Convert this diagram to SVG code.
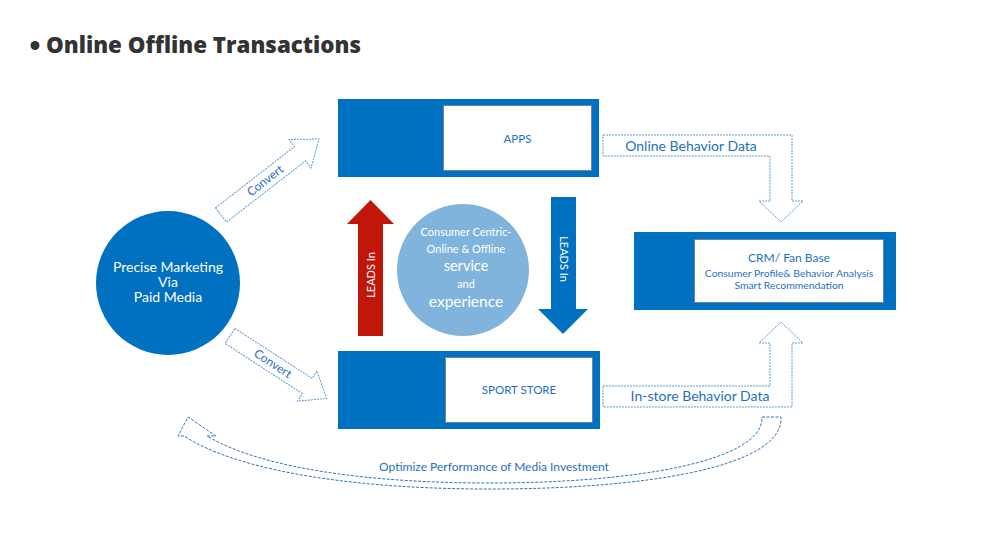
<svg xmlns="http://www.w3.org/2000/svg" width="1000" height="560" viewBox="0 0 1000 560">
<style>
.t{font-family:Lato,"Open Sans","Liberation Sans",sans-serif;}
.blue{fill:#1F6FBF;}
.w{fill:#ffffff;}
.box{fill:#0070C0;}
.inner{fill:#ffffff;stroke:#6E83A3;stroke-width:1;}
.dash{fill:#ffffff;stroke:#5B9BD5;stroke-width:1;stroke-dasharray:2 1;}
.curve{fill:#ffffff;stroke:#2E75B6;stroke-width:1;stroke-dasharray:3 1.5;}
</style>
<rect width="1000" height="560" fill="#ffffff"/>
<g id="title">
<circle cx="35" cy="45.5" r="4.5" fill="#333333"/>
<text x="46" y="53" font-family="'Open Sans',Lato,sans-serif" font-size="22" font-weight="800" fill="#333333" textLength="315" lengthAdjust="spacingAndGlyphs">Online Offline Transactions</text>
</g>
<g id="connectors">
<g id="convert-up" transform="translate(221,215) rotate(-37.8)">
<path class="dash" d="M0 -9 L100 -9 L100 -18 L124 0 L100 18 L100 9 L0 9 Z"/>
<text class="t blue" x="56" y="4" font-size="12" text-anchor="middle">Convert</text>
</g>
<g id="convert-down" transform="translate(230,336) rotate(32.9)">
<path class="dash" d="M0 -9 L92 -9 L92 -18 L115 0 L92 18 L92 9 L0 9 Z"/>
<text class="t blue" x="51" y="4" font-size="12" text-anchor="middle">Convert</text>
</g>
<g id="online-data">
<path class="dash" d="M603 135 L792 135 L792 201 L803 201 L781 222 L759 201 L770 201 L770 156 L603 156 Z"/>
<text class="t blue" x="691" y="151" font-size="14" text-anchor="middle">Online Behavior Data</text>
</g>
<g id="instore-data">
<path class="dash" d="M603 386 L770 386 L770 343 L759 343 L781 322 L803 343 L792 343 L792 407 L603 407 Z"/>
<text class="t blue" x="700" y="401" font-size="14" text-anchor="middle">In-store Behavior Data</text>
</g>
<g id="optimize">
<path class="curve" d="M762 417 L781 417 C784 468 640 490 480 489 C330 488 230 466 184 436 L178 436 L188 417 L216 436 L207 436 C250 462 340 482 480 483 C630 484 764 462 762 417 Z"/>
<text class="t blue" x="494" y="471" font-size="12" text-anchor="middle">Optimize Performance of Media Investment</text>
</g>
<g id="leads-up">
<path d="M358 336 L358 224 L347 224 L370.5 200 L394 224 L383 224 L383 336 Z" fill="#C0170A"/>
<text class="t w" transform="translate(374.5,275) rotate(-90)" font-size="11" text-anchor="middle">LEADS In</text>
</g>
<g id="leads-down">
<path d="M551 197 L576 197 L576 309 L588 309 L563 334 L538 309 L551 309 Z" fill="#0070C0"/>
<text class="t w" transform="translate(559.5,259) rotate(90)" font-size="11" text-anchor="middle">LEADS In</text>
</g>
</g>
<g id="node-marketing">
<circle cx="168" cy="283" r="72" fill="#0070C0"/>
<text class="t w" x="168" y="272" font-size="14" text-anchor="middle">Precise Marketing</text>
<text class="t w" x="168" y="287" font-size="14" text-anchor="middle">Via</text>
<text class="t w" x="168" y="302" font-size="14" text-anchor="middle">Paid Media</text>
</g>
<g id="node-center">
<circle cx="463" cy="270" r="66" fill="#80B4DC"/>
<text class="t w" x="466" y="236" font-size="11" text-anchor="middle">Consumer Centric-</text>
<text class="t w" x="466" y="253" font-size="11" text-anchor="middle">Online &amp; Offline</text>
<text class="t w" x="466" y="271" font-size="14.5" text-anchor="middle">service</text>
<text class="t w" x="466" y="288" font-size="11" text-anchor="middle">and</text>
<text class="t w" x="466" y="307" font-size="15.5" text-anchor="middle">experience</text>
</g>
<g id="node-apps">
<rect class="box" x="338" y="99" width="261" height="78"/>
<rect class="inner" x="443.5" y="105.5" width="148" height="65"/>
<text class="t blue" x="517.5" y="143" font-size="11.5" text-anchor="middle">APPS</text>
</g>
<g id="node-store">
<rect class="box" x="338" y="351" width="262" height="78"/>
<rect class="inner" x="445.5" y="357.5" width="147" height="65"/>
<text class="t blue" x="519" y="394" font-size="11.5" text-anchor="middle">SPORT STORE</text>
</g>
<g id="node-crm">
<rect class="box" x="634" y="232" width="262" height="78"/>
<rect class="inner" x="694.5" y="239.5" width="189" height="63"/>
<text class="t blue" x="789" y="262" font-size="12" text-anchor="middle">CRM/ Fan Base</text>
<text class="t blue" x="789" y="277" font-size="10.4" text-anchor="middle">Consumer Profile&amp; Behavior Analysis</text>
<text class="t blue" x="789" y="289" font-size="10.4" text-anchor="middle">Smart Recommendation</text>
</g>
</svg>
